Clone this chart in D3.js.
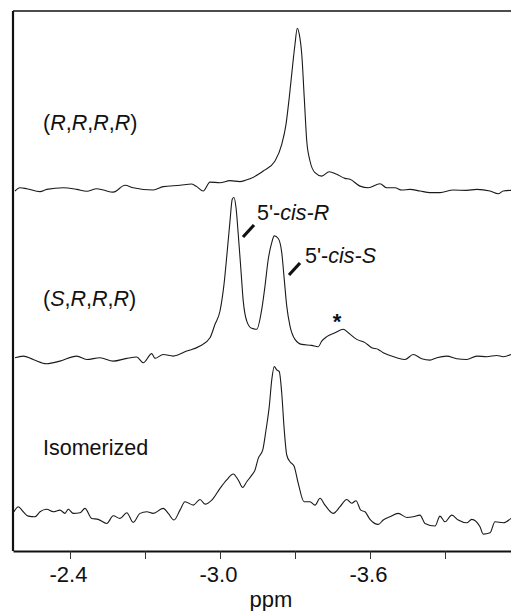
<!DOCTYPE html>
<html>
<head>
<meta charset="utf-8">
<script src="https://cdn.jsdelivr.net/npm/d3@7"></script>
<style>
  body { margin: 0; background: #fff; }
  text { font-family: "Liberation Sans", Arial, sans-serif; fill: #111; }
</style>
</head>
<body>
<div id="chart"></div>
<script>
// spectra: chemical shift (ppm) and relative intensity
const ppmTop = [-2.18,-2.20,-2.227,-2.28,-2.307,-2.373,-2.427,-2.467,-2.507,-2.533,-2.573,-2.62,-2.653,-2.733,-2.773,-2.84,-2.887,-2.907,-2.933,-2.96,-3.00,-3.04,-3.08,-3.12,-3.16,-3.173,-3.22,-3.247,-3.264,-3.277,-3.291,-3.30,-3.309,-3.317,-3.327,-3.337,-3.347,-3.36,-3.38,-3.407,-3.437,-3.467,-3.50,-3.52,-3.56,-3.593,-3.64,-3.667,-3.70,-3.727,-3.76,-3.80,-3.84,-3.88,-3.933,-3.987,-4.027,-4.08,-4.113,-4.133,-4.164];
const intTop = [-1.0,1.0,0.4,-1.4,0,1.0,0,-1.2,0.4,-0.4,-1.7,2.5,1.0,-0.4,1.7,2.5,3.3,1.7,-1.0,4.5,4.1,5.4,4.8,6.6,9.9,11.3,17.5,27.8,40.1,56.6,77.2,89.5,99.4,95.7,83.3,56.6,29.8,17.5,10.3,8.2,10.9,9.3,6.8,6.2,2.0,1.0,3.5,1.0,1.0,-0.4,0,-1.0,-2.0,-2.0,-0.4,-0.6,0,-1.0,-2.7,-1.0,-0.6];

const ppmMid = [-2.18,-2.213,-2.253,-2.307,-2.36,-2.427,-2.467,-2.52,-2.573,-2.627,-2.667,-2.693,-2.727,-2.74,-2.773,-2.813,-2.867,-2.92,-2.96,-2.98,-3.00,-3.016,-3.029,-3.04,-3.049,-3.056,-3.064,-3.073,-3.083,-3.093,-3.107,-3.127,-3.147,-3.167,-3.18,-3.193,-3.207,-3.217,-3.233,-3.247,-3.257,-3.267,-3.28,-3.30,-3.327,-3.367,-3.393,-3.407,-3.427,-3.46,-3.493,-3.513,-3.547,-3.58,-3.607,-3.633,-3.653,-3.68,-3.707,-3.74,-3.773,-3.807,-3.84,-3.867,-3.907,-3.947,-3.987,-4.027,-4.067,-4.107,-4.133,-4.164];
const intMid = [-0.8,0.2,-1.9,-4.5,-2.9,0.2,-1.9,-0.8,-2.9,-1.2,-0.4,-3.9,1.7,-1.2,1.2,0.2,3.3,6.4,11.5,19.8,28.0,44.4,65.0,83.5,96.9,98.0,91.8,75.3,54.8,34.1,21.8,17.3,16.7,29.0,43.4,59.9,70.2,74.3,72.7,64.0,47.5,31.0,18.7,10.5,7.4,6.8,6.0,9.4,12.2,14.6,16.7,14.6,10.5,8.5,5.4,4.3,2.3,0.6,-0.8,-1.9,1.2,-1.4,-2.3,-0.8,0.2,-1.4,-1.9,0.2,-0.2,0.6,-0.2,1.2];

const ppmBot = [-2.176,-2.193,-2.213,-2.233,-2.26,-2.28,-2.307,-2.333,-2.36,-2.38,-2.393,-2.413,-2.44,-2.46,-2.487,-2.513,-2.547,-2.573,-2.60,-2.627,-2.653,-2.68,-2.707,-2.733,-2.773,-2.793,-2.816,-2.84,-2.86,-2.893,-2.92,-2.94,-2.967,-3.00,-3.027,-3.053,-3.073,-3.091,-3.107,-3.127,-3.14,-3.153,-3.171,-3.184,-3.197,-3.207,-3.217,-3.227,-3.237,-3.247,-3.256,-3.267,-3.28,-3.296,-3.313,-3.336,-3.36,-3.38,-3.40,-3.42,-3.453,-3.48,-3.507,-3.527,-3.544,-3.563,-3.58,-3.60,-3.633,-3.653,-3.68,-3.713,-3.747,-3.773,-3.80,-3.82,-3.86,-3.88,-3.90,-3.927,-3.953,-3.987,-4.007,-4.04,-4.053,-4.08,-4.10,-4.133,-4.164];
const intBot = [0.2,3.3,0.2,-2.5,-2.9,0.2,1.7,0.2,1.2,-0.8,1.7,-0.8,-0.4,2.3,-3.9,-4.5,-7.0,-2.3,-3.9,-0.4,-6.4,-0.8,0.2,-0.8,2.3,-0.8,-4.9,1.2,6.4,4.3,7.8,4.9,7.4,14.6,19.8,23.5,19.8,15.2,18.7,22.8,25.9,33.1,38.3,50.6,65.0,81.5,89.7,87.7,86.6,73.3,52.7,35.2,31.0,28.4,17.7,6.4,6.4,4.3,8.5,4.3,-0.8,3.3,7.8,5.4,7.0,1.2,0.2,-4.5,-7.6,-4.9,-2.9,-0.8,-3.3,-2.9,-1.9,-7.0,-8.6,-2.5,-6.0,-1.9,-4.9,-6.6,-4.5,-9.1,-13.6,-12.8,-6.0,-6.6,-3.9];

const traceNames = ["(R,R,R,R)", "(S,R,R,R)", "Isomerized"];
const tickValues = [-2.4, -2.7, -3.0, -3.3, -3.6, -3.9];
const tickLabels = ["-2.4", "", "-3.0", "", "-3.6", ""];

let margin = {top: 11, right: 0, bottom: 60, left: 13};
let width = 511 - margin.left - margin.right;
let height = 611 - margin.top - margin.bottom;

let svg = d3.select("#chart").append("svg")
    .attr("width", 511)
    .attr("height", 611)
    .append("g")
    .attr("transform", "translate(" + margin.left + "," + margin.top + ")");

// ppm runs right to left, as usual for NMR
let x = d3.scaleLinear()
    .domain([-2.172, -4.164])
    .range([0, width]);

let y = d3.scaleLinear()
    .domain([-24, 309])
    .range([height, 0]);

// vertical stacking of the three spectra, in intensity units
let offsets = [199, 96, 0];

let traces = [
    {ppm: ppmTop, val: intTop},
    {ppm: ppmMid, val: intMid},
    {ppm: ppmBot, val: intBot}
];

let line = d3.line()
    .x(d => x(d[0]))
    .y(d => y(d[1]))
    .curve(d3.curveMonotoneX);

traces.forEach((t, i) => {
    let pts = t.ppm.map((p, j) => [p, t.val[j] + offsets[i]]);
    svg.append("path")
        .datum(pts)
        .attr("fill", "none")
        .attr("stroke", "#1a1a1a")
        .attr("stroke-width", 1.1)
        .attr("d", line);
});

// frame: top and left edges
svg.append("line")
    .attr("x1", 0).attr("x2", width + 5)
    .attr("y1", 0).attr("y2", 0)
    .attr("stroke", "#111").attr("stroke-width", 1.6);
svg.append("line")
    .attr("x1", 0).attr("x2", 0)
    .attr("y1", 0).attr("y2", height)
    .attr("stroke", "#111").attr("stroke-width", 2.2);

// x axis
let xAxis = d3.axisBottom(x)
    .tickValues(tickValues)
    .tickSize(8)
    .tickSizeOuter(0)
    .tickFormat((d, i) => tickLabels[i]);

let gx = svg.append("g")
    .attr("transform", "translate(0," + height + ")")
    .call(xAxis);
gx.select(".domain").attr("stroke", "#111").attr("stroke-width", 2.2);
gx.selectAll(".tick line").attr("stroke", "#333").attr("stroke-width", 1);
gx.selectAll(".tick text")
    .attr("y", 31)
    .attr("dy", 0)
    .attr("dx", -2)
    .style("font-family", "'Liberation Sans', Arial, sans-serif")
    .style("font-size", "22px")
    .attr("fill", "#111");

svg.append("text")
    .attr("x", x(-3.204))
    .attr("y", height + 56)
    .attr("text-anchor", "middle")
    .style("font-size", "22px")
    .text("ppm");

// trace labels, with italic stereo descriptors
let labelPos = [{x: 30, y: 119}, {x: 30, y: 295}, {x: 30, y: 444}];
traceNames.forEach((name, i) => {
    let t = svg.append("text")
        .attr("x", labelPos[i].x)
        .attr("y", labelPos[i].y)
        .style("font-size", "21.5px");
    name.split(/([RS])/).filter(s => s.length).forEach(s => {
        t.append("tspan")
            .style("font-style", (s === "R" || s === "S") && name !== "Isomerized" ? "italic" : "normal")
            .text(s);
    });
});

// peak annotations
let notes = [
    {label: "cis-R", tx: 244, ty: 209, l: [[230, 226], [241, 214]]},
    {label: "cis-S", tx: 292, ty: 252, l: [[276, 264], [287, 252]]}
];
notes.forEach(n => {
    svg.append("line")
        .attr("x1", n.l[0][0]).attr("y1", n.l[0][1])
        .attr("x2", n.l[1][0]).attr("y2", n.l[1][1])
        .attr("stroke", "#111").attr("stroke-width", 3.2);
    let t = svg.append("text")
        .attr("x", n.tx).attr("y", n.ty)
        .style("font-size", "21.5px");
    t.append("tspan").text("5'-");
    t.append("tspan").style("font-style", "italic").text(n.label);
});

svg.append("text")
    .attr("x", x(-3.468))
    .attr("y", 318)
    .attr("text-anchor", "middle")
    .style("font-size", "22px")
    .style("font-weight", "bold")
    .text("*");
</script>
</body>
</html>
